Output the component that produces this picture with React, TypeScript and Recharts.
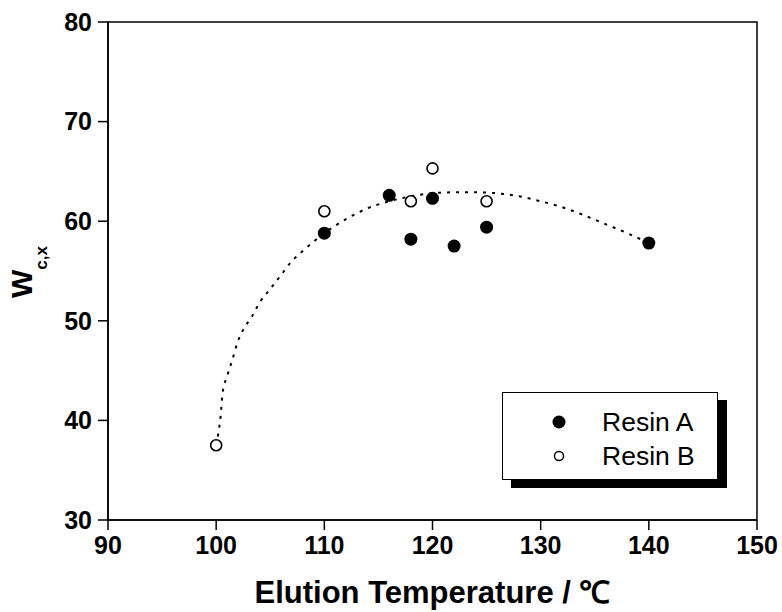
import {
  ComposedChart,
  Scatter,
  Line,
  XAxis,
  YAxis,
  Legend,
  ReferenceArea,
} from "recharts";

// ─── Data ───────────────────────────────────────────────────────────────────

const resinA = [
  { x: 110, y: 58.8 },
  { x: 116, y: 62.6 },
  { x: 118, y: 58.2 },
  { x: 120, y: 62.3 },
  { x: 122, y: 57.5 },
  { x: 125, y: 59.4 },
  { x: 140, y: 57.8 },
];

const resinB = [
  { x: 100, y: 37.5 },
  { x: 110, y: 61.0 },
  { x: 118, y: 62.0 },
  { x: 120, y: 65.3 },
  { x: 125, y: 62.0 },
];

// dotted guide curve
const curveX = [
  100, 100.2, 100.4, 100.6, 101, 101.5, 102, 102.5, 103.3, 104, 105, 106, 107, 108, 110,
  112, 114, 116, 118, 120, 122, 124, 126, 128, 130, 132, 134, 136, 138, 140,
];
const curveY = [
  37.5, 38.7, 40.3, 42.8, 44.4, 46.1, 47.9, 49.1, 50.4, 51.8, 53.2, 54.6, 56.0, 57.0, 58.8,
  60.2, 61.3, 62.0, 62.5, 62.8, 62.9, 62.9, 62.8, 62.5, 62.0, 61.4, 60.6, 59.7, 58.8, 57.8,
];
const curve = curveX.map((x, i) => ({ x, y: curveY[i] }));

const xTicks = [90, 100, 110, 120, 130, 140, 150];
const yTicks = [30, 40, 50, 60, 70, 80];

const FONT = "'Liberation Sans', Arial, Helvetica, sans-serif";
const INK = "#000";

const tickStyle = { fontSize: 25, fontWeight: 700, fill: INK, fontFamily: FONT };

// ─── Marker shapes ──────────────────────────────────────────────────────────

const FilledDot = (p: any) => <circle cx={p.cx} cy={p.cy} r={6.5} fill={INK} />;
const OpenDot = (p: any) => (
  <circle cx={p.cx} cy={p.cy} r={5.5} fill="#fff" stroke={INK} strokeWidth={1.6} />
);

// ─── Legend box with drop shadow ────────────────────────────────────────────

function ResinLegend() {
  const row = (filled: boolean, label: string) => (
    <div style={{ display: "flex", alignItems: "center", height: 34 }}>
      <svg width={99} height={34}>
        {filled ? (
          <circle cx={56} cy={17} r={6.5} fill={INK} />
        ) : (
          <circle cx={56} cy={17} r={4.5} fill="#fff" stroke={INK} strokeWidth={1.4} />
        )}
      </svg>
      <span style={{ fontFamily: FONT, fontSize: 26.5, color: INK }}>{label}</span>
    </div>
  );
  return (
    <div
      style={{
        width: 216,
        height: 88,
        border: "1px solid #000",
        background: "#fff",
        boxShadow: "9px 8px 0 #000",
        paddingTop: 12,
        boxSizing: "border-box",
      }}
    >
      {row(true, "Resin A")}
      {row(false, "Resin B")}
    </div>
  );
}

// ─── Y axis title: W with subscript c,x ─────────────────────────────────────

const YTitle = () => (
  <text
    x={32}
    y={272}
    transform="rotate(-90, 32, 272)"
    textAnchor="middle"
    fontFamily={FONT}
    fontWeight={700}
    fill={INK}
  >
    <tspan fontSize={30}>W</tspan>
    <tspan fontSize={17} dy={15}>
      c,x
    </tspan>
  </text>
);

export default function App() {
  return (
    <div style={{ position: "absolute", left: 0, top: 0, width: 782, height: 612, background: "#fff" }}>
      <ComposedChart
        width={782}
        height={612}
        margin={{ top: 22, right: 25, bottom: 0, left: 0 }}
      >
        <XAxis
          dataKey="x"
          type="number"
          domain={[90, 150]}
          ticks={xTicks}
          allowDataOverflow
          height={92}
          tick={tickStyle}
          tickSize={10}
          tickMargin={6}
          stroke={INK}
          strokeWidth={1.5}
          tickLine={{ stroke: INK, strokeWidth: 1.5 }}
          label={{
            value: "Elution Temperature / ℃",
            position: "insideBottom",
            offset: 9,
            style: { fontSize: 31, fontWeight: 700, fill: INK, fontFamily: FONT },
          }}
        />
        <YAxis
          dataKey="y"
          type="number"
          domain={[30, 80]}
          ticks={yTicks}
          allowDataOverflow
          width={108}
          tick={tickStyle}
          tickSize={10}
          tickMargin={6}
          stroke={INK}
          strokeWidth={1.5}
          tickLine={{ stroke: INK, strokeWidth: 1.5 }}
          label={<YTitle />}
        />
        <ReferenceArea
          x1={90}
          x2={150}
          y1={30}
          y2={80}
          fill="none"
          stroke={INK}
          strokeWidth={1.5}
          ifOverflow="visible"
        />
        <Line
          data={curve}
          dataKey="y"
          type="monotone"
          stroke={INK}
          strokeWidth={2}
          strokeDasharray="3 6"
          dot={false}
          activeDot={false}
          legendType="none"
          isAnimationActive={false}
        />
        <Scatter name="Resin A" data={resinA} shape={FilledDot} isAnimationActive={false} />
        <Scatter name="Resin B" data={resinB} shape={OpenDot} isAnimationActive={false} />
        <Legend
          layout="vertical"
          align="center"
          verticalAlign="middle"
          content={() => <ResinLegend />}
          wrapperStyle={{ left: 502, top: 392, width: 216, height: 88 }}
        />
      </ComposedChart>
    </div>
  );
}
